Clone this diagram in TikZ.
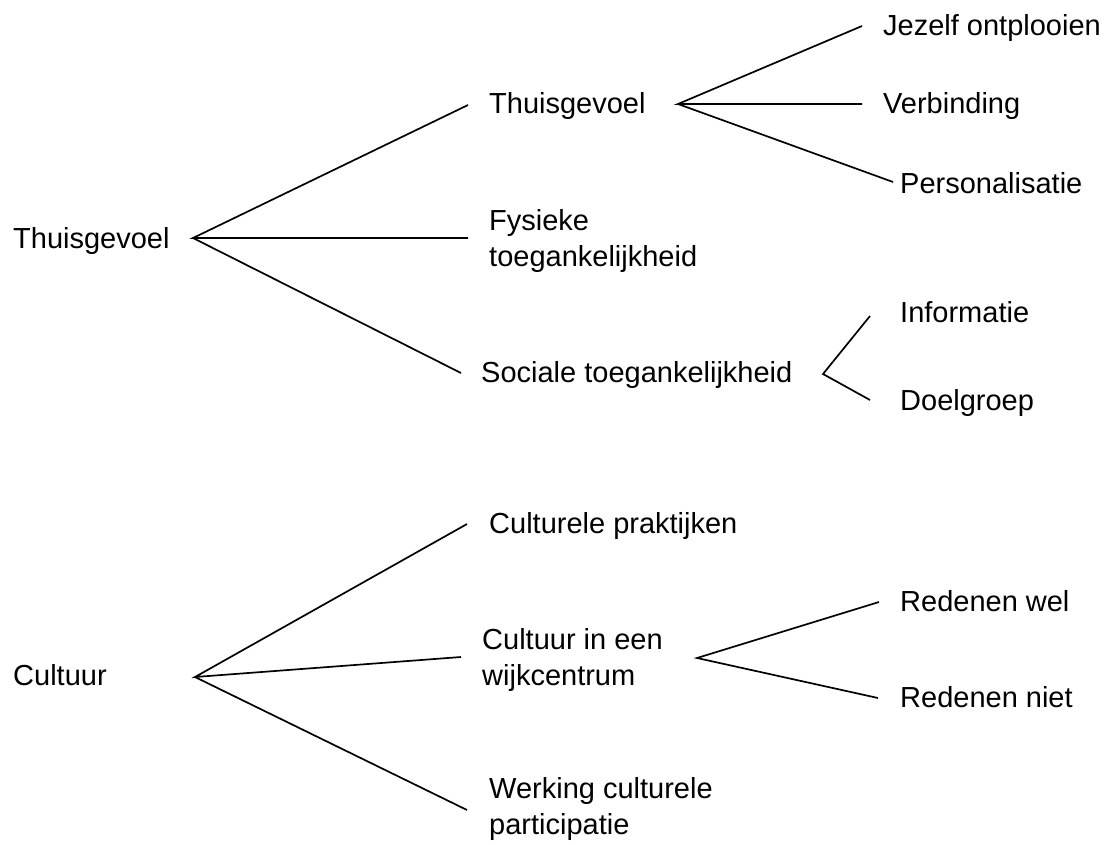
\documentclass[tikz,border=0pt]{standalone}
\usepackage{fontspec}
\setmainfont{Liberation Sans}
\begin{document}
\begin{tikzpicture}[x=1pt,y=-1pt,
  lbl/.style={anchor=base west, inner sep=0pt, font=\fontsize{29}{36}\selectfont, align=left},
  conn/.style={line width=1.7pt, black}]
\useasboundingbox (0,0) rectangle (1109,844);
% labels
\node[lbl] (r1) at (13,248) {Thuisgevoel};
\node[lbl] (t1) at (489,113) {Thuisgevoel};
\node[lbl] (je) at (883,35) {Jezelf ontplooien};
\node[lbl] (ve) at (883,113) {Verbinding};
\node[lbl] (pe) at (900,193) {Personalisatie};
\node[lbl] (fy) at (489,266) {Fysieke\\toegankelijkheid};
\node[lbl] (so) at (481,382) {Sociale toegankelijkheid};
\node[lbl] (in) at (900,322) {Informatie};
\node[lbl] (do) at (900,410) {Doelgroep};
\node[lbl] (r2) at (13,685) {Cultuur};
\node[lbl] (cp) at (489,533) {Culturele praktijken};
\node[lbl] (cw) at (482,685) {Cultuur in een\\wijkcentrum};
\node[lbl] (wc) at (489,834) {Werking culturele\\participatie};
\node[lbl] (rw) at (900,611) {Redenen wel};
\node[lbl] (rn) at (900,707) {Redenen niet};
% connector points
\coordinate (r1a) at (193,238);
\coordinate (t1in) at (468,105);
\coordinate (fyin) at (468,238);
\coordinate (soin) at (461,373);
\coordinate (t1a) at (678,104);
\coordinate (jein) at (862,26);
\coordinate (vein) at (862,104);
\coordinate (pein) at (893,182);
\coordinate (soa) at (823,374);
\coordinate (inin) at (870,316);
\coordinate (doin) at (870,400);
\coordinate (r2a) at (195,677);
\coordinate (cpin) at (467,524);
\coordinate (cwin) at (461,657);
\coordinate (wcin) at (467,810);
\coordinate (cwa) at (697,658);
\coordinate (rwin) at (879,602);
\coordinate (rnin) at (878,698);
% connectors
\draw[conn] (t1in) -- (r1a) -- (fyin);
\draw[conn] (r1a) -- (soin);
\draw[conn] (jein) -- (t1a) -- (vein);
\draw[conn] (t1a) -- (pein);
\draw[conn] (inin) -- (soa) -- (doin);
\draw[conn] (cpin) -- (r2a) -- (cwin);
\draw[conn] (r2a) -- (wcin);
\draw[conn] (rwin) -- (cwa) -- (rnin);
\end{tikzpicture}
\end{document}
